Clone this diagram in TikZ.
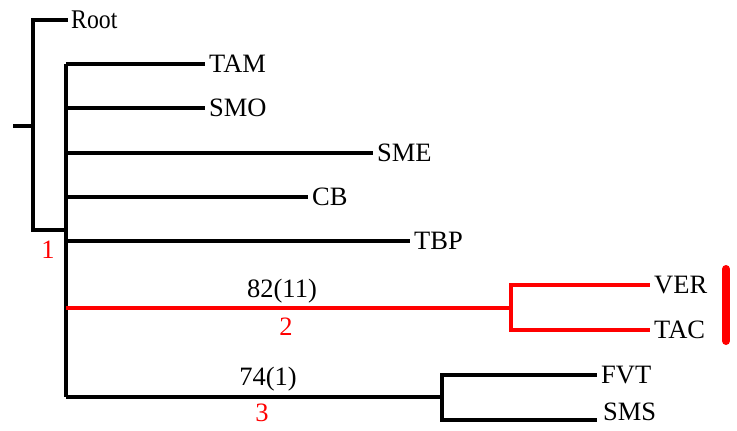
\documentclass[tikz,border=0pt]{standalone}
\usepackage{fontspec}
\setmainfont{Liberation Serif}
\newfontfamily\narrowserif[FakeStretch=0.88]{Liberation Serif}
\usepackage{tikz}
\usetikzlibrary{calc}
\definecolor{cladered}{HTML}{FF0000}
\definecolor{inkblack}{HTML}{000000}

\begin{document}
\begin{tikzpicture}[
  x=1pt, y=-1pt,
  branch/.style={draw=inkblack, line width=4pt, line cap=butt},
  clade/.style={branch, draw=cladered, line width=3.5pt},
  leaf/.style={anchor=west, inner xsep=4pt, inner ysep=0pt, text depth=0pt,
               font=\fontsize{26.5}{30}\selectfont},
  support/.style={font=\fontsize{26.5}{30}\selectfont, text=inkblack},
  nodeid/.style={font=\fontsize{26.5}{30}\selectfont, text=cladered}
]
  \useasboundingbox (0,0) rectangle (737,431);

  % internal nodes
  \coordinate (stub) at (13,126);
  \coordinate (n0) at (33,126);
  \coordinate (n1) at (66,230);
  \coordinate (n2) at (511,308);
  \coordinate (n3) at (442,397);

  % tips
  \node[leaf, inner xsep=3pt, font=\narrowserif\fontsize{27}{30}\selectfont] (root) at (68,20) {Root};
  \node[leaf] (tam) at (205,64) {TAM};
  \node[leaf] (smo) at (205,108) {SMO};
  \node[leaf] (sme) at (373,153) {SME};
  \node[leaf] (cb) at (308,197) {CB};
  \node[leaf] (tbp) at (410,241) {TBP};
  \node[leaf] (ver) at (650,285) {VER};
  \node[leaf] (tac) at (650,330) {TAC};
  \node[leaf] (fvt) at (597,375) {FVT};
  \node[leaf, text depth=16pt, inner xsep=6pt] (sms) at (597,420) {SMS};

  % outer split
  \draw[branch] (stub) -- (n0);
  \draw[branch] (n0) |- (root);
  \draw[branch] (n0) |- (n1);

  % big polytomy
  \draw[branch] (tam -| n1) -- (n3 -| n1);
  \foreach \t in {tam, smo, sme, cb, tbp}
    \draw[branch] (n1 |- \t) -- (\t);
  \draw[branch] (n1 |- n3) -- (n3);
  \draw[clade] (n1 |- n2) -- (n2);

  % sub-clades
  \draw[clade] (n2) |- (ver);
  \draw[clade] (n2) |- (tac);
  \draw[branch] (n3) |- (fvt);
  \draw[branch] (n3) |- (sms);

  % labels
  \node[support] (bs2) at (282,291) {82(11)};
  \node[nodeid] (id2) at (286,327) {2};
  \node[support] (bs3) at (268,379) {74(1)};
  \node[nodeid] (id3) at (262,413) {3};
  \node[nodeid] (id1) at (48,250) {1};

  % highlight bar
  \coordinate (bartop) at (726,269);
  \coordinate (barbot) at (726,341);
  \draw[cladered, line width=8pt, line cap=round] (bartop) -- (barbot);
\end{tikzpicture}
\end{document}
